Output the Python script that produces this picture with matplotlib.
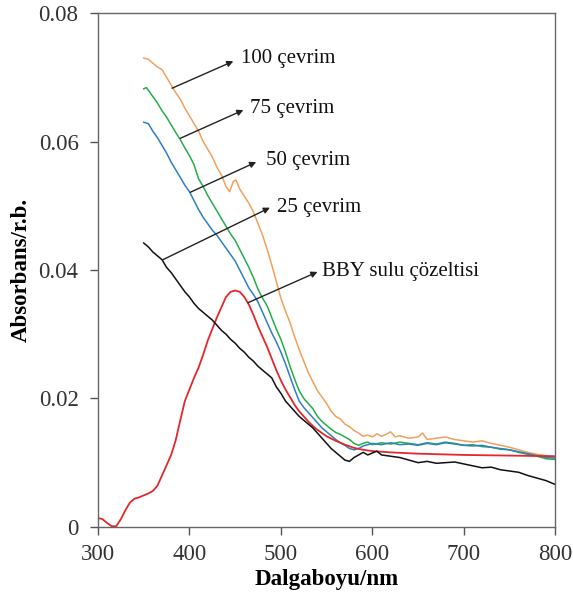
import matplotlib
matplotlib.use("Agg")
import matplotlib.pyplot as plt

plt.rcParams['font.family'] = ['Liberation Serif', 'DejaVu Serif']

# --- data ---
wl_100 = [350, 355, 360, 365, 370, 375, 380, 385, 390, 395, 400, 405, 410, 415, 420, 425, 430, 435, 440, 444,
          448, 451, 455, 460, 465, 470, 475, 480, 485, 490, 495, 500, 505, 510, 515, 520, 525, 530, 535, 540,
          545, 550, 555, 560, 565, 570, 575, 580, 585, 590, 595, 600, 605, 610, 615, 620, 625, 630, 640, 650,
          655, 660, 670, 680, 690, 700, 710, 720, 730, 740, 750, 760, 770, 780, 790, 800]
abs_100 = [0.0730, 0.0728, 0.0722, 0.0716, 0.0712, 0.0700, 0.0688, 0.0676, 0.0666, 0.0652, 0.0640, 0.0628,
           0.0616, 0.0600, 0.0588, 0.0576, 0.0560, 0.0548, 0.0530, 0.0522, 0.0538, 0.0540, 0.0526, 0.0515,
           0.0504, 0.0490, 0.0472, 0.0454, 0.0432, 0.0408, 0.0382, 0.0356, 0.0336, 0.0318, 0.0296, 0.0276,
           0.0258, 0.0240, 0.0226, 0.0212, 0.0202, 0.0192, 0.0180, 0.0172, 0.0168, 0.0160, 0.0156, 0.0150,
           0.0146, 0.0141, 0.0143, 0.0140, 0.0145, 0.0141, 0.0144, 0.0148, 0.0140, 0.0142, 0.0138, 0.0140,
           0.0146, 0.0136, 0.0138, 0.0140, 0.0136, 0.0134, 0.0132, 0.0134, 0.0130, 0.0127, 0.0124, 0.0120,
           0.0116, 0.0113, 0.0111, 0.0109]

wl_75 = [350, 353, 360, 365, 370, 375, 380, 385, 390, 395, 400, 405, 410, 415, 420, 425, 430, 435, 440, 445,
         450, 455, 460, 465, 470, 475, 480, 485, 490, 495, 500, 505, 510, 515, 520, 525, 530, 535, 540, 545,
         550, 555, 560, 565, 570, 575, 580, 585, 590, 595, 600, 610, 620, 630, 640, 650, 660, 670, 680, 690,
         700, 710, 720, 730, 740, 750, 760, 770, 780, 790, 800]
abs_75 = [0.0682, 0.0684, 0.0670, 0.0660, 0.0648, 0.0638, 0.0626, 0.0614, 0.0603, 0.0590, 0.0578, 0.0564,
          0.0542, 0.0530, 0.0516, 0.0504, 0.0492, 0.0480, 0.0468, 0.0456, 0.0446, 0.0432, 0.0418, 0.0404,
          0.0388, 0.0370, 0.0356, 0.0344, 0.0326, 0.0308, 0.0292, 0.0272, 0.0250, 0.0230, 0.0212, 0.0200,
          0.0192, 0.0184, 0.0172, 0.0164, 0.0158, 0.0152, 0.0147, 0.0144, 0.0140, 0.0136, 0.0130, 0.0127,
          0.0130, 0.0132, 0.0128, 0.0131, 0.0129, 0.0132, 0.0130, 0.0128, 0.0131, 0.0129, 0.0132, 0.0130,
          0.0127, 0.0128, 0.0125, 0.0124, 0.0121, 0.0120, 0.0116, 0.0113, 0.0110, 0.0106, 0.0105]

wl_50 = [350, 355, 360, 365, 370, 375, 380, 385, 390, 395, 400, 405, 410, 415, 420, 425, 430, 435, 440, 445,
         450, 455, 460, 465, 470, 475, 480, 485, 490, 495, 500, 505, 510, 515, 520, 525, 530, 535, 540, 545,
         550, 555, 560, 565, 570, 575, 580, 585, 590, 600, 610, 620, 630, 640, 650, 660, 670, 680, 690, 700,
         710, 720, 730, 740, 750, 760, 770, 780, 790, 800]
abs_50 = [0.0630, 0.0628, 0.0616, 0.0606, 0.0594, 0.0582, 0.0568, 0.0556, 0.0544, 0.0532, 0.0522, 0.0508,
          0.0494, 0.0482, 0.0472, 0.0462, 0.0454, 0.0444, 0.0434, 0.0424, 0.0414, 0.0400, 0.0386, 0.0372,
          0.0362, 0.0350, 0.0334, 0.0318, 0.0302, 0.0288, 0.0272, 0.0254, 0.0234, 0.0214, 0.0196, 0.0186,
          0.0178, 0.0170, 0.0162, 0.0154, 0.0148, 0.0142, 0.0136, 0.0131, 0.0127, 0.0122, 0.0120, 0.0122,
          0.0126, 0.0130, 0.0128, 0.0131, 0.0128, 0.0129, 0.0127, 0.0130, 0.0128, 0.0131, 0.0129, 0.0127,
          0.0126, 0.0127, 0.0124, 0.0122, 0.0120, 0.0117, 0.0114, 0.0111, 0.0108, 0.0107]

wl_25 = [350, 355, 360, 365, 370, 375, 380, 385, 390, 395, 400, 405, 410, 415, 420, 425, 430, 435, 440, 445,
         450, 455, 460, 465, 470, 475, 480, 485, 490, 495, 500, 505, 510, 515, 520, 525, 530, 535, 540, 545,
         550, 555, 560, 565, 570, 575, 580, 585, 590, 595, 600, 605, 610, 620, 630, 640, 650, 660, 670, 680,
         690, 700, 710, 720, 730, 740, 750, 760, 770, 780, 790, 800]
abs_25 = [0.0442, 0.0436, 0.0428, 0.0422, 0.0416, 0.0404, 0.0396, 0.0386, 0.0376, 0.0366, 0.0358, 0.0348,
          0.0340, 0.0334, 0.0328, 0.0322, 0.0314, 0.0306, 0.0300, 0.0292, 0.0286, 0.0278, 0.0272, 0.0264,
          0.0258, 0.0250, 0.0244, 0.0238, 0.0232, 0.0218, 0.0208, 0.0196, 0.0188, 0.0180, 0.0172, 0.0166,
          0.0160, 0.0154, 0.0146, 0.0138, 0.0130, 0.0122, 0.0116, 0.0110, 0.0104, 0.0102, 0.0108, 0.0112,
          0.0116, 0.0112, 0.0115, 0.0118, 0.0112, 0.0110, 0.0108, 0.0104, 0.0100, 0.0102, 0.0099, 0.0100,
          0.0101, 0.0098, 0.0095, 0.0092, 0.0093, 0.0089, 0.0087, 0.0085, 0.0080, 0.0076, 0.0072, 0.0066]

wl_bby = [300, 305, 310, 315, 320, 325, 330, 335, 340, 345, 350, 355, 360, 365, 370, 375, 380, 385, 390, 395,
          400, 405, 410, 415, 420, 425, 430, 435, 440, 445, 450, 455, 460, 465, 470, 475, 480, 485, 490, 495,
          500, 505, 510, 515, 520, 525, 530, 535, 540, 545, 550, 560, 570, 580, 590, 600, 620, 650, 700, 750, 800]
abs_bby = [0.0014, 0.0012, 0.0006, 0.0001, 0.0001, 0.0012, 0.0026, 0.0038, 0.0044, 0.0046, 0.0049, 0.0052,
           0.0056, 0.0064, 0.0080, 0.0096, 0.0112, 0.0135, 0.0166, 0.0196, 0.0214, 0.0232, 0.0248, 0.0268,
           0.0290, 0.0308, 0.0326, 0.0342, 0.0358, 0.0366, 0.0368, 0.0366, 0.0358, 0.0346, 0.0330, 0.0312,
           0.0296, 0.0280, 0.0262, 0.0244, 0.0228, 0.0214, 0.0202, 0.0190, 0.0180, 0.0172, 0.0164, 0.0157,
           0.0151, 0.0146, 0.0141, 0.0134, 0.0128, 0.0123, 0.0120, 0.0118, 0.0116, 0.0114, 0.0112, 0.0111, 0.0110]

labels = ['100 çevrim', '75 çevrim', '50 çevrim', '25 çevrim', 'BBY sulu çözeltisi']
x_ticks = [300, 400, 500, 600, 700, 800]
y_ticks = [0, 0.02, 0.04, 0.06, 0.08]
y_ticklabels = ['0', '0.02', '0.04', '0.06', '0.08']

fig = plt.figure(figsize=(5.73, 5.94), dpi=100)
ax = fig.add_axes([0.171, 0.113, 0.798, 0.865])

ax.plot(wl_100, abs_100, color='#F2A05A', lw=1.1)
ax.plot(wl_75, abs_75, color='#26AD4B', lw=1.1)
ax.plot(wl_50, abs_50, color='#2F7FC6', lw=1.1)
ax.plot(wl_bby, abs_bby, color='#E5262B', lw=1.3)
ax.plot(wl_25, abs_25, color='#111111', lw=1.1)

# annotation arrows: (start on curve, arrow head, text position)
arrows = [((381, 0.0683), (448, 0.0725), (456, 0.0730)),
          ((390, 0.0605), (459, 0.0649), (466, 0.0652)),
          ((401, 0.0521), (473, 0.0568), (484, 0.0571)),
          ((371, 0.0416), (488, 0.0497), (496, 0.0497)),
          ((464, 0.0349), (540, 0.0397), (545, 0.0397))]
for lab, (p0, p1, pt) in zip(labels, arrows):
    ax.annotate('', xy=p1, xytext=p0,
                arrowprops=dict(arrowstyle='-|>', color='#222222', lw=1.0,
                                mutation_scale=9, shrinkA=0, shrinkB=0))
    ax.text(pt[0], pt[1], lab, fontsize=15, va='center', ha='left', color='#111111')

ax.set_xlim(300, 800)
ax.set_ylim(0, 0.08)
ax.set_xticks(x_ticks)
ax.set_yticks(y_ticks)
ax.set_yticklabels(y_ticklabels)
ax.tick_params(direction='out', length=6, width=1, colors='#555555', labelcolor='#333333', labelsize=16.5)
ax.tick_params(axis='x', pad=6)
ax.tick_params(axis='y', pad=8)
for s in ax.spines.values():
    s.set_color('#666666')
    s.set_linewidth(1.0)

ax.set_xlabel('Dalgaboyu/nm', fontsize=16.5, fontweight='bold', labelpad=3)
ax.set_ylabel('Absorbans/r.b.', fontsize=16.5, fontweight='bold', labelpad=5)

fig.savefig('out.png', dpi=100)
